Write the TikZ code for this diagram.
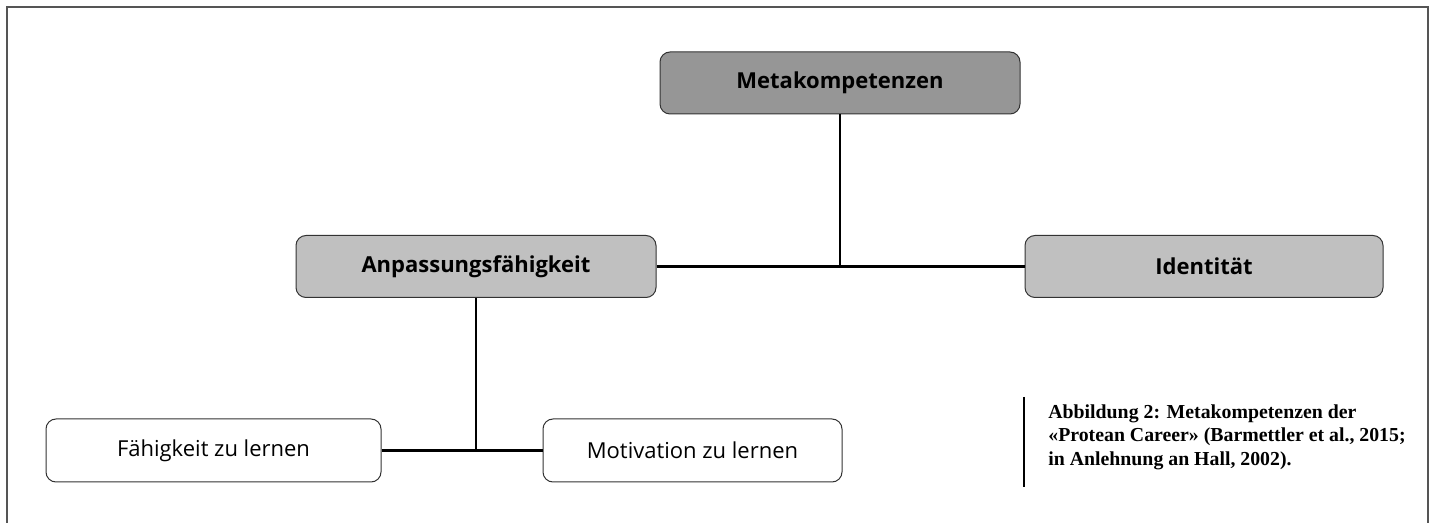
\documentclass[tikz,border=0pt]{standalone}
\usepackage{fontspec}
\setmainfont{Liberation Serif}
\newfontfamily\boxfont{Open Sans}
\usepackage{tikz}
\usetikzlibrary{positioning}
\definecolor{metagray}{HTML}{969696}
\definecolor{subgray}{HTML}{C0C0C0}
\definecolor{framegray}{HTML}{555555}
\tikzset{
    metabox/.style={
    rectangle,rounded corners=5pt,draw=black!80,fill=metagray,line width=0.5pt,
    minimum width=180pt,minimum height=31pt,font=\boxfont\bfseries\fontsize{11}{13}\selectfont
    },
    subbox/.style={
    rectangle,rounded corners=5pt,draw=black!80,fill=subgray,line width=0.5pt,
    minimum width=180pt,minimum height=31pt,font=\boxfont\bfseries\fontsize{11}{13}\selectfont
    },
    leafbox/.style={
    rectangle,rounded corners=5pt,draw=black!80,fill=white,line width=0.5pt,
    minimum height=31.5pt,font=\boxfont\fontsize{11}{13}\selectfont
    },
    link/.style={
    draw=black,line width=1.2pt
    },
    caption/.style={
    align=left,font=\bfseries\fontsize{9.9}{11.75}\selectfont,inner sep=0pt
    },
}
\begin{document}
\begin{tikzpicture}[x=0.5pt,y=-0.5pt]
   \useasboundingbox (0,0) rectangle (1431,523);
   \draw[framegray,line width=0.9pt] (7,540) -- (7,7) -- (1428,7) -- (1428,540);

   \node[metabox] (meta) at (840,83) {Metakompetenzen};
   \node[subbox] (anpass) at (476,266.5) {Anpassungsfähigkeit};
   \node[subbox,minimum width=179pt] (ident) at (1204,266.5) {Identität};
   \node[leafbox,minimum width=167.5pt] (faehig) at (213.5,450.5) {Fähigkeit zu lernen};
   \node[leafbox,minimum width=149.5pt] (motiv) at (692.5,450.5) {Motivation zu lernen};

   \coordinate (hub1) at (meta.south |- anpass.east);
   \coordinate (hub2) at (anpass.south |- faehig.east);

   \path[link]
    (meta.south) edge (hub1)
    (anpass.east) edge (ident.west)
    (anpass.south) edge (hub2)
    (faehig.east) edge (motiv.west);

   \node[caption,anchor=north west] (cap) at (1048,404)
    {Abbildung 2: Metakompetenzen der\\
     «Protean Career» (Barmettler et al., 2015;\\
     in Anlehnung an Hall, 2002).};
   \draw[black,line width=0.7pt] (1024,397) -- (1024,487);
\end{tikzpicture}
\end{document}
